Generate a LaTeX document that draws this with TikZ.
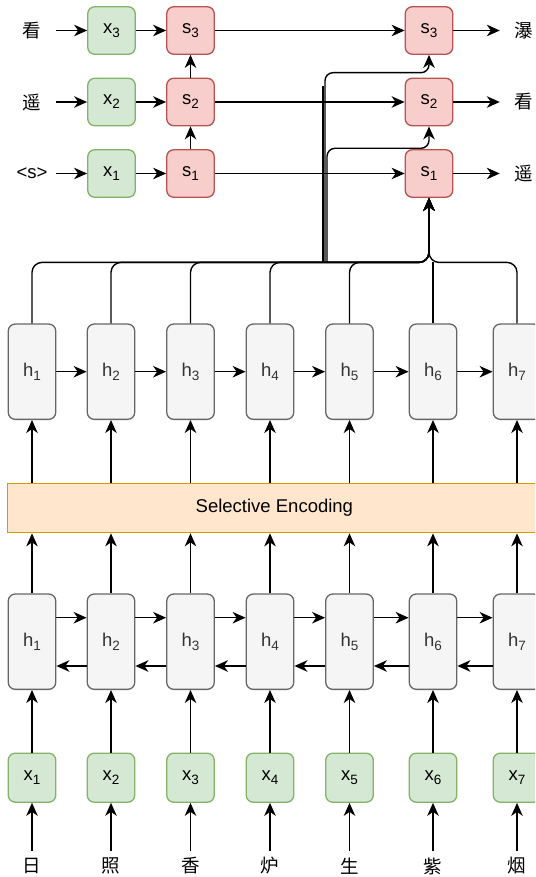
\documentclass[tikz,border=0pt]{standalone}
\usepackage{fontspec}
\setmainfont{Liberation Sans}
\newfontfamily\cjk{Noto Sans CJK SC}
\usetikzlibrary{arrows.meta}
\definecolor{gS}{HTML}{82B366}
\definecolor{gF}{HTML}{D5E8D4}
\definecolor{rS}{HTML}{B85450}
\definecolor{rF}{HTML}{F8CECC}
\definecolor{hS}{HTML}{666666}
\definecolor{hF}{HTML}{F5F5F5}
\definecolor{hT}{HTML}{333333}
\definecolor{oS}{HTML}{D79B00}
\definecolor{oF}{HTML}{FFE6CC}
\newcommand\sbs[1]{\raisebox{-4pt}{\fontsize{13.5}{14}\selectfont #1}}
\begin{document}
\begin{tikzpicture}[x=1pt,y=-1pt,
  base/.style={rounded corners=7pt, line width=1.3pt, minimum width=47.5pt, inner sep=0pt, font=\fontsize{18.5}{20}\selectfont},
  xbox/.style={base, draw=gS, fill=gF, minimum height=49pt},
  tbox/.style={base, draw=gS, fill=gF, minimum height=47.5pt},
  sbox/.style={base, draw=rS, fill=rF, minimum height=47.5pt},
  hbox/.style={base, draw=hS, fill=hF, minimum height=95.3pt, text=hT},
  selbox/.style={draw=oS, fill=oF, line width=1.3pt, minimum width=533.2pt, minimum height=49pt, inner sep=0pt, font=\fontsize{18.5}{20}\selectfont},
  lbl/.style={inner sep=0pt, minimum width=48pt, font=\fontsize{18.5}{20}\selectfont},
  blbl/.style={inner sep=0pt, minimum height=30pt, font=\fontsize{18.5}{20}\selectfont\cjk},
  ln/.style={line width=1.4pt},
  arr/.style={line width=1.4pt, -{Stealth[length=13pt,width=11.5pt,inset=4pt]}}
]
\useasboundingbox (0,0) rectangle (535,877);
\clip (0,0) rectangle (535,877);

% encoder columns
\foreach \i/\x in {1/32,2/111,3/190.5,4/270,5/349.5,6/433,7/517} {
  \node[xbox] (x\i) at (\x,777.7) {x\sbs{\i}};
  \node[hbox] (l\i) at (\x,641.7) {h\sbs{\i}};
  \node[hbox] (u\i) at (\x,371.7) {h\sbs{\i}};
}
\node[selbox] (sel) at (274.4,508.2) {Selective Encoding};

\node[blbl] (w1) at (32,866) {日};
\node[blbl] (w2) at (111,866) {照};
\node[blbl] (w3) at (190.5,866) {香};
\node[blbl] (w4) at (270,866) {炉};
\node[blbl] (w5) at (349.5,866) {生};
\node[blbl] (w6) at (433,866) {紫};
\node[blbl] (w7) at (517,866) {烟};

\foreach \i in {1,...,7} {
  \draw[arr] (w\i) -- (x\i);
  \draw[arr] (x\i) -- (l\i);
  \draw[arr] (l\i.north) -- (l\i.north |- sel.south);
  \draw[arr] (u\i.south |- sel.north) -- (u\i);
}
\foreach \i/\j in {1/2,2/3,3/4,4/5,5/6,6/7} {
  \draw[arr] ([yshift=24pt]l\i.east) -- ([yshift=24pt]l\j.west);
  \draw[arr] ([yshift=-24.3pt]l\j.west) -- ([yshift=-24.3pt]l\i.east);
  \draw[arr] (u\i) -- (u\j);
}

% decoder
\node[lbl] (tl1) at (32,173.5) {<s>};
\node[lbl] (tl2) at (32,102) {\cjk 遥};
\node[lbl] (tl3) at (32,30.5) {\cjk 看};
\node[tbox] (tx1) at (111.5,173.5) {x\sbs{1}};
\node[tbox] (tx2) at (111.5,102) {x\sbs{2}};
\node[tbox] (tx3) at (111.5,30.5) {x\sbs{3}};
\node[sbox] (ts1) at (190.5,173.5) {s\sbs{1}};
\node[sbox] (ts2) at (190.5,102) {s\sbs{2}};
\node[sbox] (ts3) at (190.5,30.5) {s\sbs{3}};
\node[sbox] (rs1) at (429,173.5) {s\sbs{1}};
\node[sbox] (rs2) at (429,102) {s\sbs{2}};
\node[sbox] (rs3) at (429,30.5) {s\sbs{3}};
\node[lbl] (rl1) at (524,173.5) {\cjk 遥};
\node[lbl] (rl2) at (524,102) {\cjk 看};
\node[lbl] (rl3) at (524,30.5) {\cjk 瀑};

\foreach \r in {1,2,3} {
  \draw[arr] (tl\r) -- (tx\r);
  \draw[arr] (tx\r) -- (ts\r);
  \draw[arr] (ts\r) -- (rs\r);
  \draw[arr] (rs\r) -- (rl\r);
}
\draw[arr] (ts1) -- (ts2);
\draw[arr] (ts2) -- (ts3);

% attention bundle
\coordinate (m) at (429,262.4);
\foreach \i in {1,2,3,4,5,7} {
  \draw[arr, rounded corners=10pt] (u\i.north) |- (m) -- (rs1.south);
}
\draw[ln] (u6.north) -- (433,262.4);
\coordinate (b0) at (323,262.4);
\coordinate (b3) at (325,262.4);
\coordinate (b2) at (327,262.4);
\draw[ln] (b0) -- (323,86);
\draw[arr, rounded corners=8pt] (b3) |- (429,72.7) -- (rs3.south);
\draw[arr, rounded corners=8pt] (b2) |- (429,148.3) -- (rs2.south);
\end{tikzpicture}
\end{document}
